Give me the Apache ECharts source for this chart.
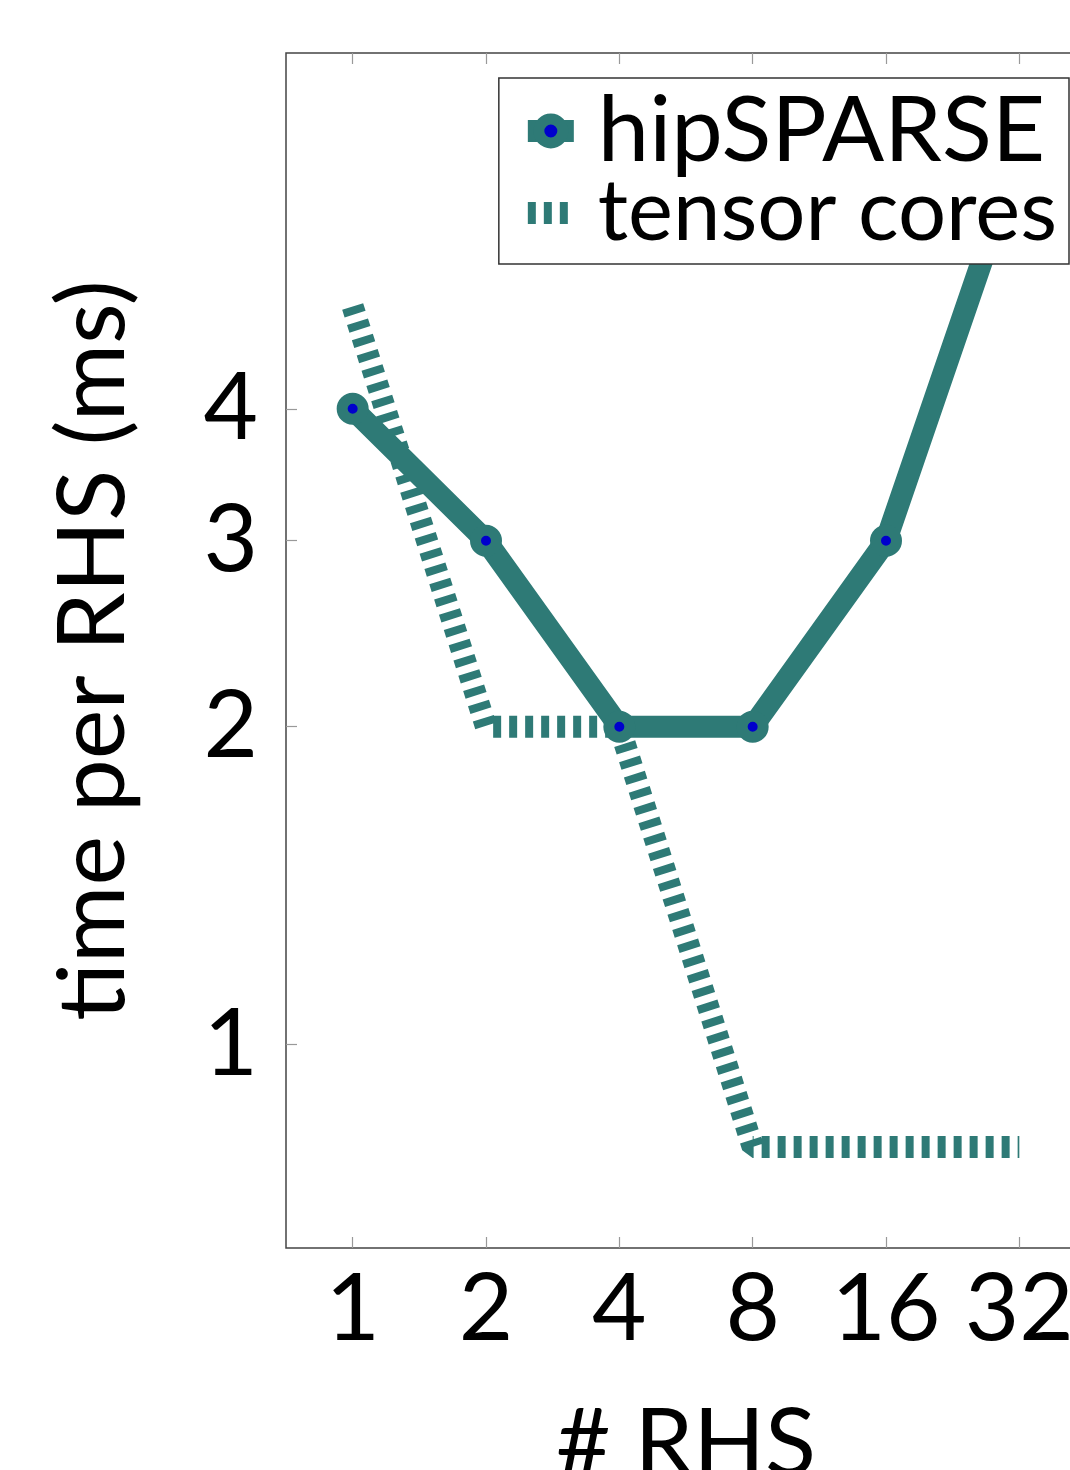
<!DOCTYPE html>
<html><head><meta charset="utf-8">
<script src="https://cdn.jsdelivr.net/npm/echarts@6/dist/echarts.min.js"></script>
<style>html,body{margin:0;padding:0;background:#fff}#c{width:1070px;height:1470px}</style>
</head><body><div id="c"></div>
<script>
const categories = ['1', '2', '4', '8', '16', '32'];
const hipSPARSE = [4, 3, 2, 2, 3, 7];
const tensorCores = [5, 2, 2, 0.8, 0.8, 0.8];
const yTicks = [1, 2, 3, 4];

const FONT = "Lato, 'Liberation Sans', sans-serif";
const TEAL = '#2e7a76';
const BLUE = '#0000cc';
const TICK = {color: '#999', width: 1.2};

const chart = echarts.init(document.getElementById('c'), null, {renderer: 'canvas'});
chart.setOption({
  animation: false,
  backgroundColor: '#fff',
  grid: {left: 286, top: 53, right: -16, bottom: 222, show: true, borderColor: '#444', borderWidth: 1.5,
         containLabel: false, outerBoundsMode: 'none'},
  legend: {
    orient: 'vertical', right: 1, top: 78,
    padding: [6, 12, 4, 18], itemGap: -12, itemWidth: 46, itemHeight: 30,
    backgroundColor: '#fff', borderColor: '#333', borderWidth: 1.5, borderRadius: 0,
    textStyle: {fontSize: 92, fontFamily: FONT, color: '#000', lineHeight: 94, padding: [0, 0, 0, 19]},
    data: [
      {name: 'hipSPARSE', lineStyle: {width: 22, color: TEAL},
       itemStyle: {color: BLUE, borderColor: TEAL, borderWidth: 11}},
      {name: 'tensor cores', lineStyle: {width: 22, color: TEAL, type: [8, 8]},
       itemStyle: {color: 'rgba(0,0,0,0)', borderWidth: 0, opacity: 0},
       textStyle: {fontSize: 85, fontFamily: FONT, color: '#000', lineHeight: 94, padding: [0, 0, 0, 19]}}
    ]
  },
  xAxis: [{
    type: 'category', data: categories, boundaryGap: true, position: 'bottom',
    axisLine: {show: false},
    axisTick: {show: true, inside: true, alignWithLabel: true, interval: 0, length: 11, lineStyle: TICK},
    axisLabel: {interval: 0, fontSize: 94, fontFamily: FONT, color: '#000', margin: 15},
    name: '# RHS', nameLocation: 'middle', nameGap: 150,
    nameTextStyle: {fontSize: 94, fontFamily: FONT, color: '#000'}
  }, {
    type: 'category', data: categories, boundaryGap: true, position: 'top',
    axisLine: {show: false},
    axisTick: {show: true, inside: true, alignWithLabel: true, interval: 0, length: 11, lineStyle: TICK},
    axisLabel: {show: false}
  }],
  yAxis: {
    type: 'log', logBase: 10, min: 0.6417, max: 8.69,
    axisLine: {show: false}, splitLine: {show: false}, minorTick: {show: false},
    axisTick: {show: true, inside: true, length: 11, lineStyle: TICK, customValues: yTicks},
    axisLabel: {customValues: yTicks, fontSize: 94, fontFamily: FONT, color: '#000', margin: 28},
    name: 'time per RHS (ms)', nameLocation: 'middle', nameRotate: 90, nameGap: 145,
    nameTextStyle: {fontSize: 94, fontFamily: FONT, color: '#000'}
  },
  series: [{
    name: 'tensor cores', type: 'line', data: tensorCores, z: 2,
    symbol: 'none', lineStyle: {color: TEAL, width: 22, type: [8, 8], cap: 'butt'},
    itemStyle: {color: TEAL}, emphasis: {disabled: true}
  }, {
    name: 'hipSPARSE', type: 'line', data: hipSPARSE, z: 3,
    symbol: 'circle', symbolSize: 21, showSymbol: true,
    itemStyle: {color: BLUE, borderColor: TEAL, borderWidth: 11},
    lineStyle: {color: TEAL, width: 22, join: 'round'}, emphasis: {disabled: true}
  }]
});
</script></body></html>
